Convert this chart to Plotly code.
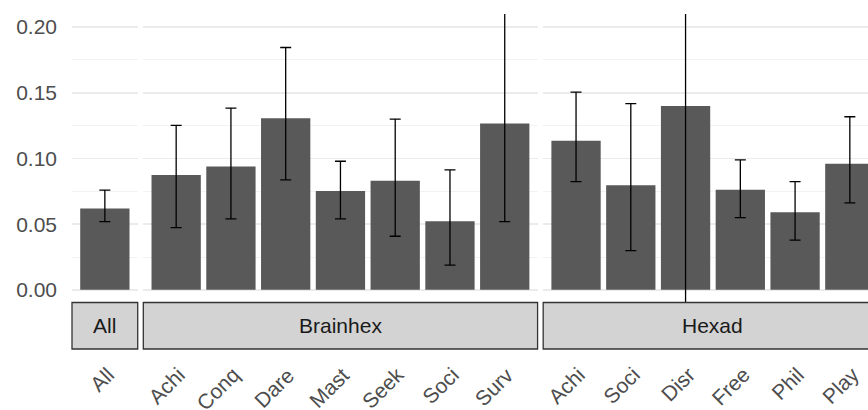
import plotly.graph_objects as go

# ---------------- data ----------------
facets = ["All", "Brainhex", "Hexad"]

all_cats = ["All"]
all_mean = [0.062]
all_lo = [0.052]
all_hi = [0.076]

brain_cats = ["Achi", "Conq", "Dare", "Mast", "Seek", "Soci", "Surv"]
brain_mean = [0.0875, 0.094, 0.1306, 0.0753, 0.0831, 0.0522, 0.1267]
brain_lo = [0.0474, 0.054, 0.0837, 0.054, 0.0408, 0.0188, 0.052]
brain_hi = [0.1252, 0.1384, 0.1845, 0.0979, 0.130, 0.0913, 0.25]

hexad_cats = ["Achi", "Soci", "Disr", "Free", "Phil", "Play"]
hexad_mean = [0.1136, 0.0796, 0.140, 0.0763, 0.0591, 0.096]
hexad_lo = [0.0824, 0.0299, -0.05, 0.055, 0.0378, 0.0662]
hexad_hi = [0.1506, 0.1417, 0.33, 0.0989, 0.0824, 0.1318]

y_ticks = [0.0, 0.05, 0.10, 0.15, 0.20]
y_ticklabels = ["0.00", "0.05", "0.10", "0.15", "0.20"]

panels = [
    (all_cats, all_mean, all_lo, all_hi),
    (brain_cats, brain_mean, brain_lo, brain_hi),
    (hexad_cats, hexad_mean, hexad_lo, hexad_hi),
]

# ---------------- layout geometry ----------------
W, H = 868, 410
PLOT_L, PLOT_T, PLOT_B = 72, 14, 303
ML = PLOT_L
MT = PLOT_T
MB = H - PLOT_B
MR = 0
PW = W - ML - MR
PH = H - MT - MB
UNIT = 54.76   # px per category
GAP = 5.6      # px between panels
EXP = 0.6      # ggplot discrete expansion

BAR_COLOR = "#595959"
FONT = "Liberation Sans, Arial, sans-serif"
FS = 21

fig = go.Figure()
layout = dict(
    width=W, height=H,
    margin=dict(l=ML, r=MR, t=MT, b=MB, pad=0, autoexpand=False),
    plot_bgcolor="white", paper_bgcolor="white",
    showlegend=False, bargap=0.1,
    font=dict(family=FONT, size=FS, color="#4D4D4D"),
)

shapes = []
annotations = []

def px_x(p):
    return (p - PLOT_L) / PW

def px_y(p):
    return (PLOT_B - p) / PH

left_px = PLOT_L
for i, (cats, mean, lo, hi) in enumerate(panels):
    n = len(cats)
    width_px = (n - 1 + 2 * EXP) * UNIT
    right_px = left_px + width_px
    d0 = px_x(left_px)
    d1 = min(px_x(right_px), 1.0)
    r1 = -EXP + (min(right_px, W) - left_px) / UNIT
    sfx = "" if i == 0 else str(i + 1)
    xa = "x" + sfx
    ya = "y" + sfx

    fig.add_trace(go.Bar(
        x=cats, y=mean,
        marker=dict(color=BAR_COLOR, line=dict(width=0)),
        width=0.9,
        error_y=dict(
            type="data", symmetric=False,
            array=[h - m for h, m in zip(hi, mean)],
            arrayminus=[m - l for m, l in zip(mean, lo)],
            color="black", thickness=1.3, width=5.5,
        ),
        xaxis=xa, yaxis=ya, hoverinfo="skip",
    ))

    layout["xaxis" + sfx] = dict(
        domain=[d0, d1], anchor=ya, type="category",
        categoryorder="array", categoryarray=cats,
        range=[-EXP, r1], showgrid=False, zeroline=False,
        showticklabels=False, ticks="", showline=False, fixedrange=True,
    )
    layout["yaxis" + sfx] = dict(
        anchor=xa, range=[-0.01, 0.21],
        tickvals=y_ticks, ticktext=y_ticklabels,
        showticklabels=(i == 0),
        ticks="", ticklabelstandoff=14,
        showgrid=True, gridcolor="#EBEBEB", gridwidth=1.4,
        minor=dict(dtick=0.025, tick0=0.025, showgrid=True,
                   gridcolor="#EFEFEF", gridwidth=0.8, ticks=""),
        zeroline=False, showline=False, fixedrange=True,
        tickfont=dict(size=FS, color="#4D4D4D", family=FONT),
    )
    if i != 0:
        layout["yaxis" + sfx]["matches"] = "y"

    # strip (facet label) below the panel
    sx1 = px_x(right_px) if right_px <= W else 1.05
    shapes.append(dict(
        type="rect", xref="paper", yref="paper",
        x0=d0, x1=sx1,
        y0=px_y(302.5), y1=px_y(349),
        fillcolor="#D3D3D3", line=dict(color="#333333", width=1.3),
        layer="above",
    ))
    annotations.append(dict(
        text=facets[i], xref="paper", yref="paper",
        x=px_x((left_px + right_px) / 2), y=px_y(325.5),
        xanchor="center", yanchor="middle", showarrow=False,
        font=dict(size=FS, color="#1A1A1A", family=FONT),
    ))
    # rotated category labels
    for c in cats:
        annotations.append(dict(
            text=c, xref=xa, yref="paper",
            x=c, y=px_y(360),
            xanchor="right", yanchor="top", xshift=16,
            textangle=-45, showarrow=False,
            font=dict(size=FS, color="#4D4D4D", family=FONT),
        ))

    left_px = right_px + GAP

layout["shapes"] = shapes
layout["annotations"] = annotations
fig.update_layout(**layout)

fig.write_html(
    "out.html",
    config={"displayModeBar": False, "staticPlot": True},
    post_script="document.body.style.margin='0px';document.body.style.overflow='hidden';",
)
